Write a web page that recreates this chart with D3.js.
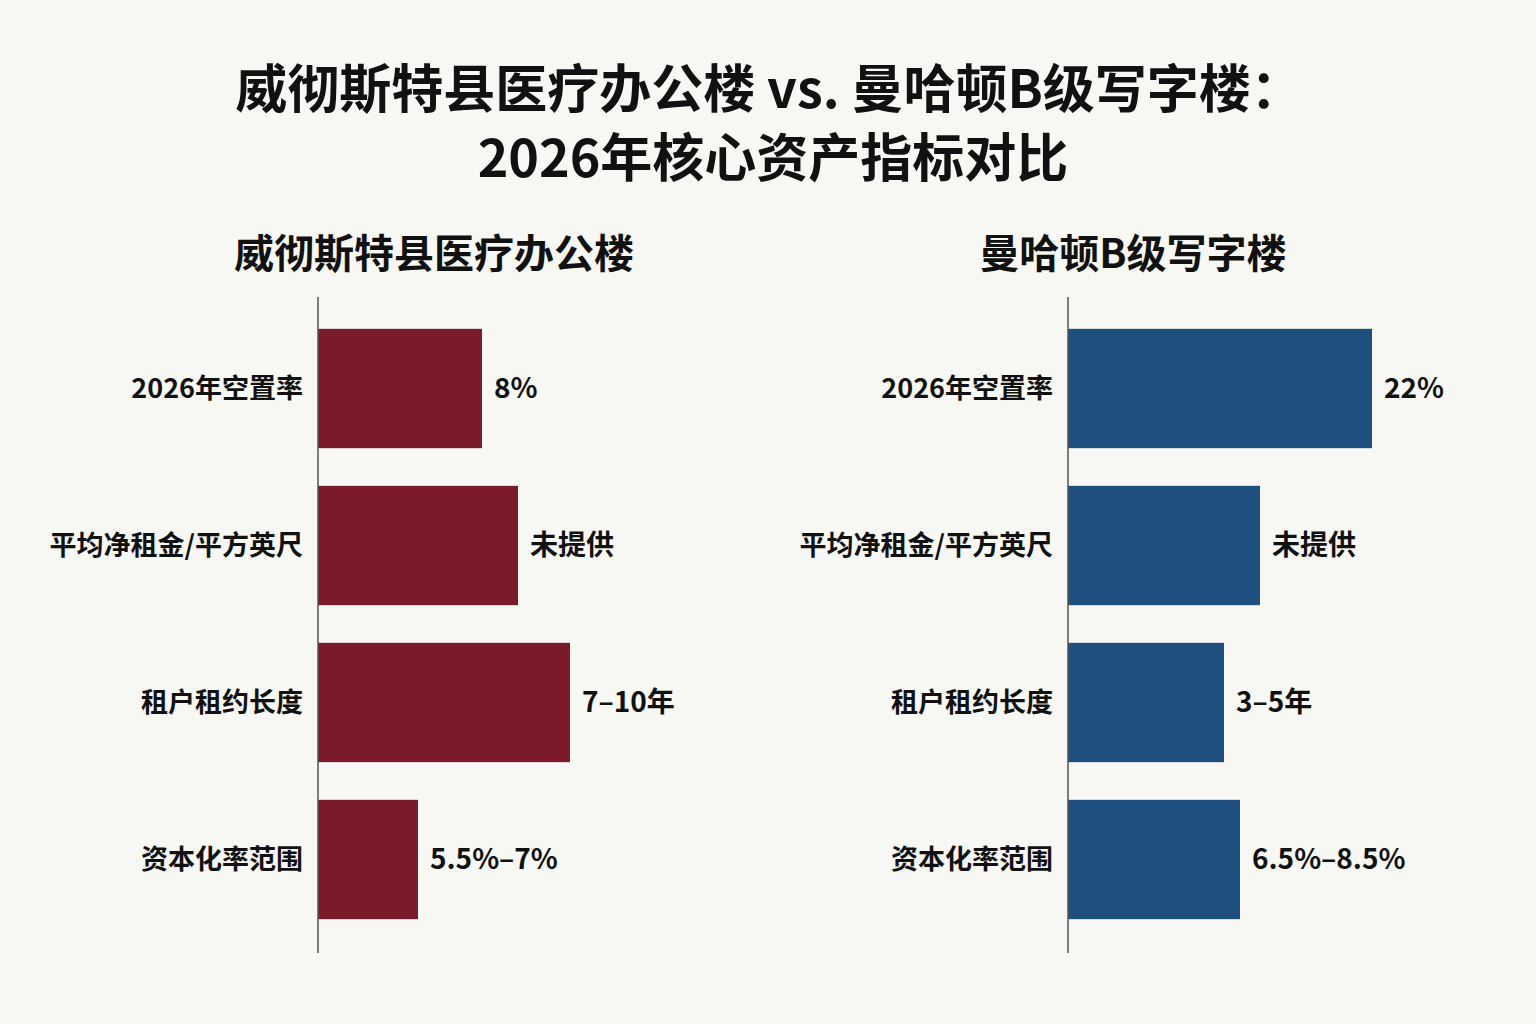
<!DOCTYPE html>
<html>
<head>
<meta charset="utf-8">
<script src="https://cdn.jsdelivr.net/npm/d3@7"></script>
<style>
  body { margin: 0; background: #f7f7f3; }
  svg { display: block; font-family: "Noto Sans CJK SC", "Noto Sans", sans-serif; }
</style>
</head>
<body>
<div id="chart"></div>
<script>
var width = 1536;
var height = 1024;

// metric rows (same for both panels)
var categories = ["2026年空置率", "平均净租金/平方英尺", "租户租约长度", "资本化率范围"];

// panel titles
var panelTitles = ["威彻斯特县医疗办公楼", "曼哈顿B级写字楼"];

// relative bar length (0-100 index)
var westchesterValues = [41, 50, 63, 25];
var manhattanValues = [76, 48, 39, 43];

// text shown next to each bar
var westchesterLabels = ["8%", "未提供", "7–10年", "5.5%–7%"];
var manhattanLabels = ["22%", "未提供", "3–5年", "6.5%–8.5%"];

var colors = ["#7b1a28", "#1f4f7e"];

var svg = d3.select("#chart")
  .append("svg")
  .attr("width", width)
  .attr("height", height);

svg.append("rect")
  .attr("width", width)
  .attr("height", height)
  .attr("fill", "#f7f7f3");

// main title, two lines
svg.append("text")
  .attr("x", 769)
  .attr("y", 108)
  .attr("text-anchor", "middle")
  .style("font-size", "52px")
  .style("font-weight", "bold")
  .attr("fill", "#111")
  .text("威彻斯特县医疗办公楼 vs. 曼哈顿B级写字楼：");

svg.append("text")
  .attr("x", 773)
  .attr("y", 177)
  .attr("text-anchor", "middle")
  .style("font-size", "52px")
  .style("font-weight", "bold")
  .attr("fill", "#111")
  .text("2026年核心资产指标对比");

var xScale = d3.scaleLinear().domain([0, 100]).range([0, 400]);

var yScale = d3.scaleBand()
  .domain(categories)
  .range([310, 938])
  .paddingInner(0.24)
  .paddingOuter(0.12);

var panels = [
  { axisX: 318, titleX: 434, values: westchesterValues, labels: westchesterLabels },
  { axisX: 1068, titleX: 1133, values: manhattanValues, labels: manhattanLabels }
];

panels.forEach(function (p, k) {
  var g = svg.append("g").attr("transform", "translate(" + p.axisX + ",0)");

  svg.append("text")
    .attr("x", p.titleX)
    .attr("y", 268)
    .attr("text-anchor", "middle")
    .style("font-size", "40px")
    .style("font-weight", "bold")
    .attr("fill", "#111")
    .text(panelTitles[k]);

  var rows = categories.map(function (c, i) {
    return { cat: c, value: p.values[i], label: p.labels[i] };
  });

  g.selectAll("rect.bar")
    .data(rows)
    .enter()
    .append("rect")
    .attr("class", "bar")
    .attr("x", 0)
    .attr("y", function (d) { return yScale(d.cat); })
    .attr("width", function (d) { return xScale(d.value); })
    .attr("height", yScale.bandwidth())
    .attr("fill", colors[k]);

  // category labels
  g.selectAll("text.cat")
    .data(rows)
    .enter()
    .append("text")
    .attr("class", "cat")
    .attr("x", -15)
    .attr("y", function (d) { return yScale(d.cat) + yScale.bandwidth() / 2; })
    .attr("dy", "0.35em")
    .attr("text-anchor", "end")
    .style("font-size", "27px")
    .style("font-weight", "bold")
    .attr("fill", "#111")
    .text(function (d) { return d.cat; });

  // value labels
  g.selectAll("text.val")
    .data(rows)
    .enter()
    .append("text")
    .attr("class", "val")
    .attr("x", function (d) { return xScale(d.value) + 12; })
    .attr("y", function (d) { return yScale(d.cat) + yScale.bandwidth() / 2; })
    .attr("dy", "0.35em")
    .style("font-size", "28px")
    .style("font-weight", "bold")
    .attr("fill", "#111")
    .text(function (d) { return d.label; });

  // axis line
  g.append("line")
    .attr("x1", 0)
    .attr("x2", 0)
    .attr("y1", 297)
    .attr("y2", 953)
    .attr("stroke", "#555")
    .attr("stroke-width", 1.5);
});
</script>
</body>
</html>
